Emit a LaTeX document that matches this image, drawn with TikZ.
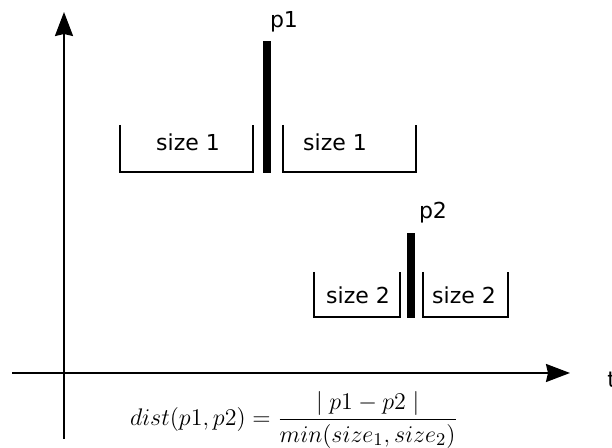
\documentclass[tikz,border=0pt]{standalone}
\usepackage{fontspec}
\setmainfont{DejaVu Sans}
\usetikzlibrary{arrows.meta}
\begin{document}
\begin{tikzpicture}[x=0.5pt,y=-0.5pt,
  axis/.style={line width=1pt,-{Stealth[length=12pt,width=9pt,inset=1pt]}},
  bracket/.style={draw=none,inner sep=0pt,outer sep=0pt},
  bracketline/.style={line width=0.9pt},
  bar/.style={fill=black,draw=none,inner sep=0pt,outer sep=0pt},
  lbl/.style={font=\fontsize{11}{13}\selectfont,inner sep=0pt}]
\useasboundingbox (0,0) rectangle (612,448);
% axes
\coordinate (yb) at (64,439);
\coordinate (yt) at (64,12);
\coordinate (xl) at (12,373);
\coordinate (xr) at (570,373);
\draw[axis] (yb) -- (yt);
\draw[axis] (xl) -- (xr);
\node[lbl,anchor=west] (t) at (607,380) {t};
% p1
\node[bar,minimum width=4pt,minimum height=66pt] (bar1) at (267,107) {};
\node[lbl] (p1) at (284,22) {p1};
\node[bracket,minimum width=66.5pt,minimum height=23.5pt] (b1) at (186.5,148.5) {};
\node[bracket,minimum width=66.5pt,minimum height=23.5pt] (b2) at (349.5,148.5) {};
\draw[bracketline] (b1.north west) -- (b1.south west) -- (b1.south east) -- (b1.north east);
\draw[bracketline] (b2.north west) -- (b2.south west) -- (b2.south east) -- (b2.north east);
\node[lbl] (s1a) at (188,142) {size 1};
\node[lbl] (s1b) at (335,142) {size 1};
% p2
\node[bar,minimum width=4pt,minimum height=42.5pt] (bar2) at (411,275.5) {};
\node[lbl] (p2) at (433,213) {p2};
\node[bracket,minimum width=43pt,minimum height=22.5pt] (b3) at (357,294.5) {};
\node[bracket,minimum width=42.5pt,minimum height=22.5pt] (b4) at (465.5,294.5) {};
\draw[bracketline] (b3.north west) -- (b3.south west) -- (b3.south east) -- (b3.north east);
\draw[bracketline] (b4.north west) -- (b4.south west) -- (b4.south east) -- (b4.north east);
\node[lbl] (s2a) at (358,295) {size 2};
\node[lbl] (s2b) at (464,295) {size 2};
% formula
\node[inner sep=0pt,font=\fontsize{13}{15}\selectfont] (f) at (294,420) {$dist(p1,p2)={\displaystyle\frac{\mid p1-p2\mid}{min(size_1,size_2)}}$};
\end{tikzpicture}
\end{document}
